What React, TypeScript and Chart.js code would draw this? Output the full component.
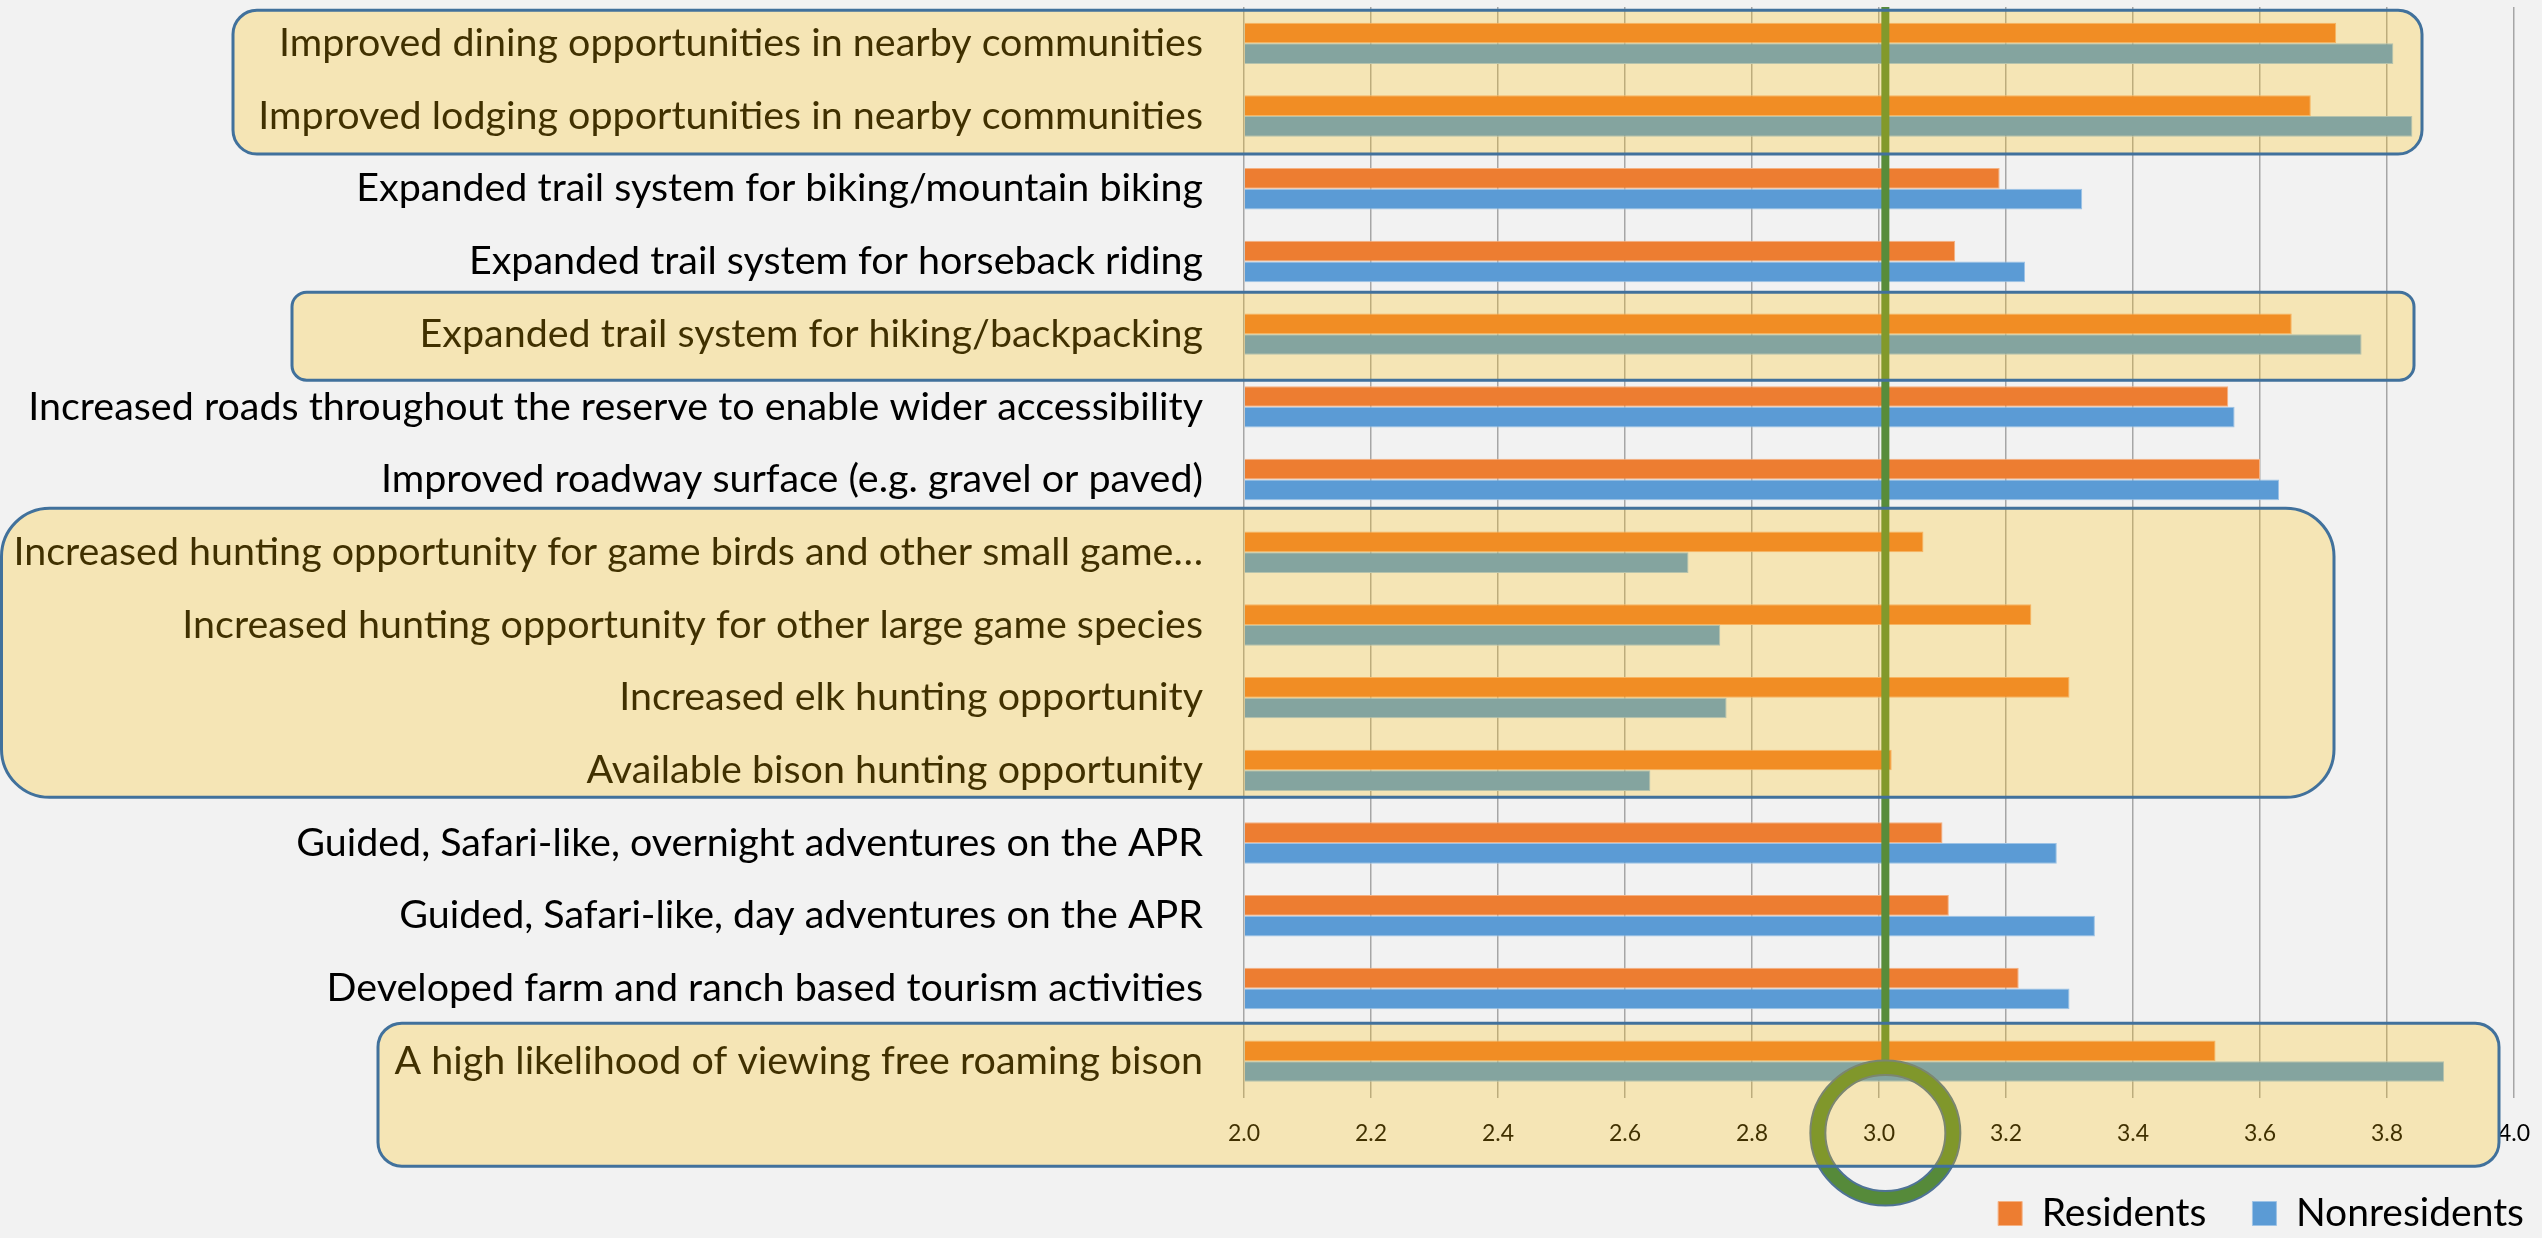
import { useEffect, useRef } from "react";
import { Chart, registerables } from "chart.js";

Chart.register(...registerables);

// ---------------- data ----------------
const categories: string[] = [
  "Improved dining opportunities in nearby communities",
  "Improved lodging opportunities in nearby communities",
  "Expanded trail system for biking/mountain biking",
  "Expanded trail system for horseback riding",
  "Expanded trail system for hiking/backpacking",
  "Increased roads throughout the reserve to enable wider accessibility",
  "Improved roadway surface (e.g. gravel or paved)",
  "Increased hunting opportunity for game birds and other small game\u2026",
  "Increased hunting opportunity for other large game species",
  "Increased elk hunting opportunity",
  "Available bison hunting opportunity",
  "Guided, Safari-like, overnight adventures on the APR",
  "Guided, Safari-like, day adventures on the APR",
  "Developed farm and ranch based tourism activities",
  "A high likelihood of viewing free roaming bison",
];

const residents: number[] = [
  3.72, 3.68, 3.19, 3.12, 3.65, 3.55, 3.6, 3.07, 3.24, 3.3, 3.02, 3.1, 3.11, 3.22, 3.53,
];

const nonresidents: number[] = [
  3.81, 3.84, 3.32, 3.23, 3.76, 3.56, 3.63, 2.7, 2.75, 2.76, 2.64, 3.28, 3.34, 3.3, 3.89,
];

const seriesNames: string[] = ["Residents", "Nonresidents"];

const xTickValues: number[] = [2.0, 2.2, 2.4, 2.6, 2.8, 3.0, 3.2, 3.4, 3.6, 3.8, 4.0];

// reference (neutral) value marked by the green line and ring
const thresholdValue = 3.01;

// highlighted category groups [first index, last index]
const highlightGroups: number[][] = [
  [0, 1],
  [4, 4],
  [7, 10],
  [14, 14],
];

// ---------------- styling / layout ----------------
const W = 2542;
const H = 1238;
const FONT = "Lato";
const PLOT_TOP = 7;
const PLOT_BOTTOM = 1097.5;
const PLOT_LEFT = 1244;
const PLOT_RIGHT = 2514;
const LEG_PAD = 46;
const LEG_RIGHT_TARGET = 2524;
const LEG_CY_TARGET = 1213.5;

// box geometry for each highlight group: left, right (px), pad above first / below last category centre
const boxGeom = [
  { left: 233, right: 2422, padTop: 33, padBottom: 38 },
  { left: 292, right: 2414, padTop: 42, padBottom: 46 },
  { left: 1.5, right: 2334, padTop: 44, padBottom: 27 },
  { left: 378, right: 2499, padTop: 38, padBottom: 105 },
];

function fitSize(text: string, family: string, width: number): number {
  const c = document.createElement("canvas").getContext("2d")!;
  c.font = `100px ${family}`;
  return (100 * width) / c.measureText(text).width;
}

export default function App() {
  const ref = useRef<HTMLCanvasElement>(null);

  useEffect(() => {
    document.body.style.margin = "0";
    document.body.style.background = "#F2F2F2";
    const canvas = ref.current!;

    const yFont = Math.min(
      (fitSize(categories[0], FONT, 935) + fitSize(categories[5], FONT, 1185)) / 2,
      fitSize(categories[7], FONT, 1190)
    );
    const legFont = Math.round(fitSize("Nonresidents", FONT, 230));
    const xFont = Math.round(fitSize("3.0", FONT, 32));
    const legItemH = Math.max(legFont, 24);
    const legH = legItemH + LEG_PAD + 10;
    const xAxisH = H - PLOT_BOTTOM - legH;

    const annot = {
      id: "annot",
      beforeDraw(chart: any) {
        const ctx = chart.ctx;
        ctx.save();
        ctx.fillStyle = "#F2F2F2";
        ctx.fillRect(0, 0, chart.width, chart.height);
        ctx.restore();
      },
      afterLayout(chart: any) {
        const lg = chart.legend;
        if (!lg) return;
        const dx = LEG_RIGHT_TARGET - (lg.right - LEG_PAD);
        const dy = LEG_CY_TARGET - (lg.top + LEG_PAD + legItemH / 2);
        lg.left += dx;
        lg.right += dx + 4;
        lg.top += dy;
        lg.bottom += dy;
        if (lg.lineWidths && lg.lineWidths.length) lg.lineWidths[0] += 4;
      },
      afterDatasetsDraw(chart: any) {
        const ctx = chart.ctx;
        const xs = chart.scales.x;
        const cx = xs.getPixelForValue(thresholdValue);
        const cy = xs.top + 35.5;
        const rxO = 75, ryO = 72.5, rxI = 60, ryI = 58;
        ctx.save();
        // vertical line
        ctx.fillStyle = "#588C3A";
        ctx.fillRect(cx - 4, chart.chartArea.top, 8, cy - ryO - chart.chartArea.top + 2);
        // ring
        ctx.beginPath();
        ctx.ellipse(cx, cy, rxO, ryO, 0, 0, Math.PI * 2);
        ctx.moveTo(cx + rxI, cy);
        ctx.ellipse(cx, cy, rxI, ryI, 0, 0, Math.PI * 2);
        ctx.fillStyle = "#568A3A";
        ctx.fill("evenodd");
        ctx.lineWidth = 2;
        ctx.strokeStyle = "#4F7396";
        ctx.beginPath();
        ctx.ellipse(cx, cy, rxO, ryO, 0, 0, Math.PI * 2);
        ctx.stroke();
        ctx.beginPath();
        ctx.ellipse(cx, cy, rxI, ryI, 0, 0, Math.PI * 2);
        ctx.stroke();
        ctx.restore();
      },
      afterDraw(chart: any) {
        const ctx = chart.ctx;
        const ys = chart.scales.y;
        ctx.save();
        highlightGroups.forEach((g, i) => {
          const b = boxGeom[i];
          const top = ys.getPixelForValue(g[0]) - b.padTop;
          const bottom = ys.getPixelForValue(g[1]) + b.padBottom;
          const w = b.right - b.left;
          const h = bottom - top;
          const r = Math.min(w, h) / 6;
          ctx.beginPath();
          ctx.roundRect(b.left, top, w, h, r);
          ctx.fillStyle = "rgba(255,192,0,0.25)";
          ctx.fill();
          ctx.lineWidth = 3;
          ctx.strokeStyle = "#41719C";
          ctx.stroke();
        });
        ctx.restore();
      },
    };

    const chart = new Chart(canvas, {
      type: "bar",
      data: {
        labels: categories,
        datasets: [
          {
            label: seriesNames[0],
            data: residents,
            backgroundColor: "#ED7D31",
            borderColor: "#F4B183",
            borderWidth: 1,
            base: 2,
          } as any,
          {
            label: seriesNames[1],
            data: nonresidents,
            backgroundColor: "#5B9BD5",
            borderColor: "#9DC3E6",
            borderWidth: 1,
            base: 2,
          } as any,
        ],
      },
      options: {
        indexAxis: "y",
        responsive: false,
        animation: false,
        devicePixelRatio: 1,
        events: [],
        datasets: { bar: { categoryPercentage: 0.57, barPercentage: 1 } },
        layout: { padding: { top: PLOT_TOP, left: 0, right: W - PLOT_RIGHT, bottom: 0 } },
        plugins: {
          legend: {
            position: "bottom",
            align: "end",
            labels: {
              boxWidth: 24,
              boxHeight: 24,
              padding: LEG_PAD,
              color: "#000",
              font: { family: FONT, size: legFont },
            },
          },
          tooltip: { enabled: false },
        },
        scales: {
          x: {
            type: "linear",
            min: xTickValues[0],
            max: xTickValues[xTickValues.length - 1],
            afterBuildTicks: (s: any) => {
              s.ticks = xTickValues.map((v) => ({ value: v }));
            },
            ticks: {
              callback: (v: any) => Number(v).toFixed(1),
              color: "#000",
              font: { family: FONT, size: xFont },
              padding: 22,
              maxRotation: 0,
              autoSkip: false,
            },
            grid: { color: "#A6A6A6", lineWidth: 1.5, drawTicks: false },
            border: { display: false },
            afterFit: (s: any) => {
              s.height = xAxisH;
              s.paddingLeft = 0;
              s.paddingRight = 0;
            },
          },
          y: {
            ticks: {
              color: "#000",
              font: { family: FONT, size: yFont },
              padding: 41,
              autoSkip: false,
            },
            grid: { display: false, drawTicks: false },
            border: { display: false },
            afterFit: (s: any) => {
              s.width = PLOT_LEFT;
              s.paddingTop = 0;
              s.paddingBottom = 0;
            },
          },
        },
      } as any,
      plugins: [annot],
    });

    return () => chart.destroy();
  }, []);

  return <canvas ref={ref} width={W} height={H} style={{ display: "block" }} />;
}
